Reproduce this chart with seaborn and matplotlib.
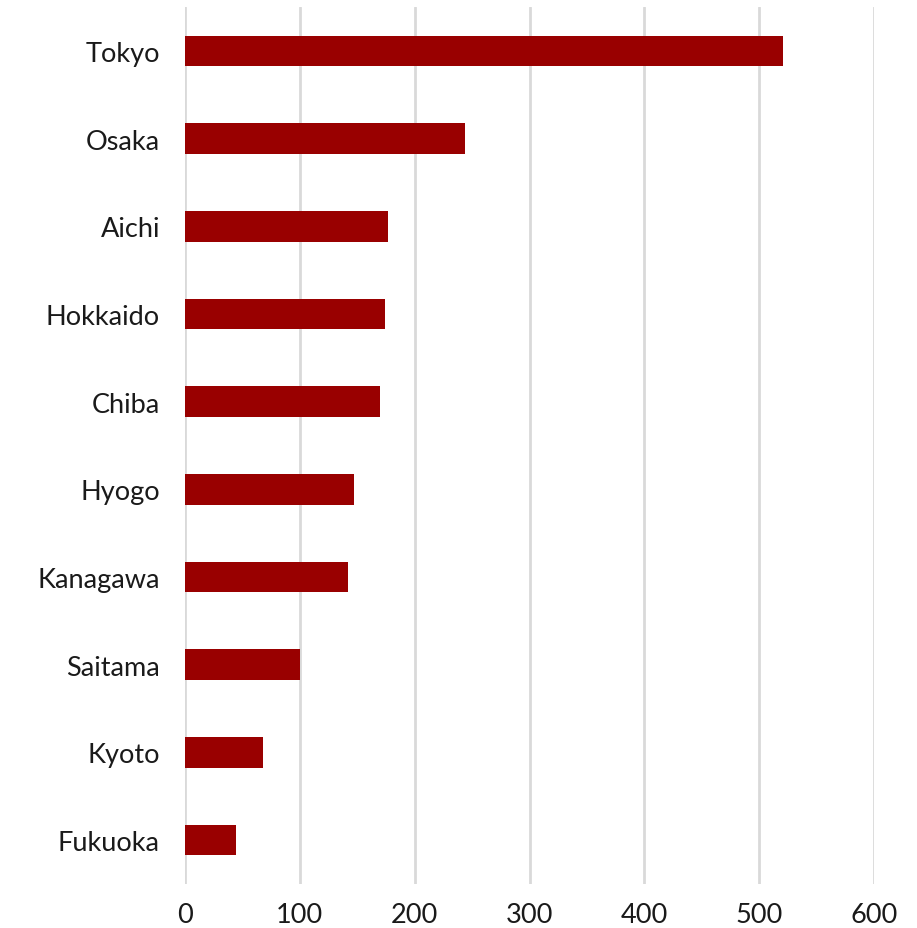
import matplotlib
matplotlib.use("Agg")
import matplotlib.pyplot as plt
import seaborn as sns
import pandas as pd

prefectures = ["Tokyo", "Osaka", "Aichi", "Hokkaido", "Chiba", "Hyogo",
               "Kanagawa", "Saitama", "Kyoto", "Fukuoka"]
values = [521, 244, 177, 174, 170, 147, 142, 100, 68, 44]
xticks = [0, 100, 200, 300, 400, 500, 600]

sns.set_theme(style="white")
plt.rcParams['font.family'] = ['Lato', 'DejaVu Sans']

df = pd.DataFrame({"prefecture": prefectures, "value": values})

W, H = 917, 929
fig = plt.figure(figsize=(W / 100, H / 100), dpi=100)
ax = fig.add_axes([185 / W, 1 - 885 / H, (874 - 185) / W, (885 - 8) / H])

ax.set_axisbelow(True)
ax.xaxis.grid(True, color="#d9d9d9", linewidth=2)
sns.barplot(data=df, x="value", y="prefecture", orient="h", color="#990000",
            saturation=1, width=0.35, ax=ax, edgecolor="none")

ax.set_xlim(0, 600)
ax.set_ylim(9.5, -0.5)
ax.set_xticks(xticks)
ax.set_xticklabels([str(t) for t in xticks])
ax.set_xlabel("")
ax.set_ylabel("")
for s in ax.spines.values():
    s.set_visible(False)
ax.tick_params(axis="both", length=0, labelsize=19.5, colors="#1a1a1a")
ax.tick_params(axis="y", pad=18)
ax.tick_params(axis="x", pad=13)

fig.savefig("out.png", dpi=100)
